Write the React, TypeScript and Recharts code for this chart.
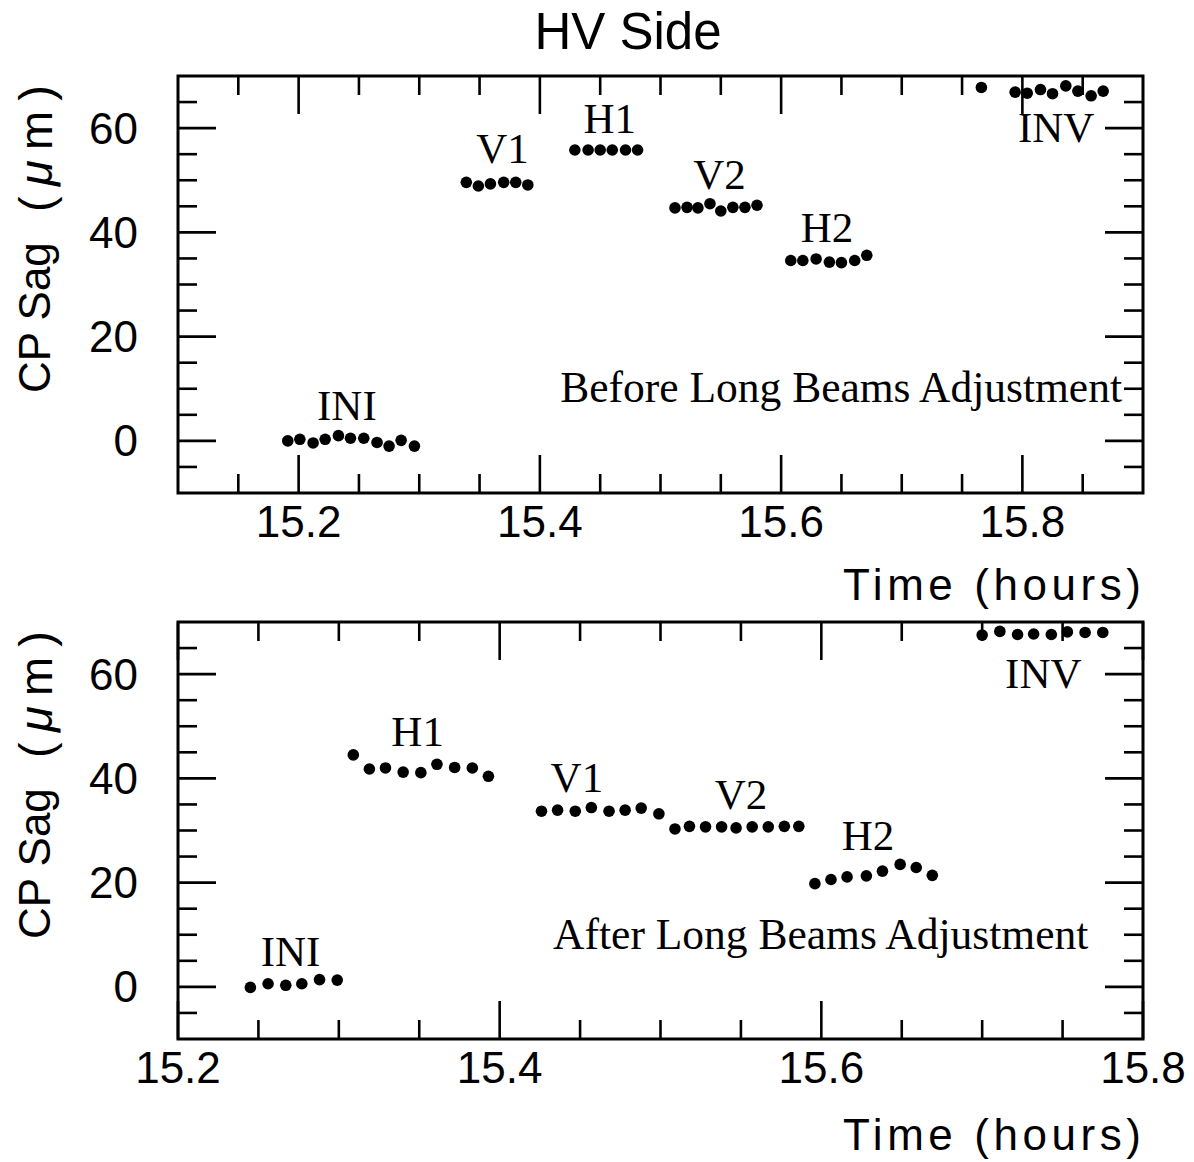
import React from 'react';
import {
  ScatterChart,
  Scatter,
  XAxis,
  YAxis,
  ReferenceArea,
  ReferenceLine,
  ReferenceDot,
} from 'recharts';

// CP sag vs time, before the long beams adjustment
const beforeTime = [
  15.191, 15.201, 15.212, 15.222, 15.233, 15.243, 15.254, 15.265, 15.275, 15.285, 15.296,
  15.339, 15.349, 15.359, 15.370, 15.380, 15.390,
  15.429, 15.440, 15.450, 15.460, 15.471, 15.481,
  15.512, 15.522, 15.531, 15.541, 15.550, 15.560, 15.570, 15.580,
  15.608, 15.618, 15.629, 15.640, 15.650, 15.661, 15.671,
  15.766, 15.794, 15.804, 15.815, 15.825, 15.836, 15.846, 15.857, 15.867,
];
const beforeSag = [
  0.0, 0.3, -0.4, 0.3, 1.0, 0.5, 0.5, -0.3, -1.0, 0.1, -1.0,
  49.6, 48.9, 49.3, 49.6, 49.6, 49.1,
  55.8, 55.8, 55.8, 55.8, 55.8, 55.8,
  44.7, 44.8, 44.7, 45.5, 44.1, 44.8, 44.8, 45.2,
  34.6, 34.6, 34.9, 34.3, 34.2, 34.6, 35.6,
  67.8, 66.9, 66.7, 67.4, 66.6, 68.1, 67.1, 66.2, 67.1,
];

// CP sag vs time, after the long beams adjustment
const afterTime = [
  15.245, 15.256, 15.267, 15.277, 15.288, 15.299,
  15.309, 15.319, 15.329, 15.340, 15.351, 15.361, 15.372, 15.383, 15.393,
  15.426, 15.436, 15.447, 15.457, 15.468, 15.478, 15.488, 15.499,
  15.509, 15.518, 15.528, 15.538, 15.547, 15.557, 15.567, 15.577, 15.586,
  15.596, 15.606, 15.616, 15.628, 15.638, 15.649, 15.659, 15.669,
  15.700, 15.711, 15.722, 15.732, 15.743, 15.753, 15.764, 15.775,
];
const afterSag = [
  -0.1, 0.6, 0.3, 0.6, 1.4, 1.3,
  44.5, 41.8, 42.0, 41.2, 41.1, 42.7, 42.1, 42.0, 40.4,
  33.7, 33.9, 33.7, 34.4, 33.7, 33.9, 34.3, 33.2,
  30.3, 30.8, 30.7, 30.7, 30.5, 30.7, 30.7, 30.8, 30.8,
  19.8, 20.6, 21.1, 21.3, 22.2, 23.5, 22.9, 21.4,
  67.5, 68.2, 67.6, 67.7, 67.6, 68.1, 68.0, 68.0,
];

// group labels (text baseline anchor, in data units)
const beforeNames = ['INI', 'V1', 'H1', 'V2', 'H2', 'INV'];
const beforeNameTime = [15.240, 15.369, 15.458, 15.549, 15.638, 15.828];
const beforeNameSag = [3.97, 53.3, 59.0, 48.4, 38.1, 57.3];

const afterNames = ['INI', 'H1', 'V1', 'V2', 'H2', 'INV'];
const afterNameTime = [15.270, 15.349, 15.448, 15.550, 15.629, 15.738];
const afterNameSag = [4.0, 46.2, 37.4, 34.2, 26.2, 57.3];

// axes
const yDomain: [number, number] = [-10, 70];
const yMajor = [0, 20, 40, 60];
const yMinor = [-5, 5, 10, 15, 25, 30, 35, 45, 50, 55, 65];

const beforeDomain: [number, number] = [15.1, 15.9];
const beforeXMajor = [15.2, 15.4, 15.6, 15.8];
const beforeXMinor = [15.15, 15.25, 15.3, 15.35, 15.45, 15.5, 15.55, 15.65, 15.7, 15.75, 15.85];

const afterDomain: [number, number] = [15.2, 15.8];
const afterXMajor = [15.2, 15.4, 15.6, 15.8];
const afterXMinor = [15.25, 15.3, 15.35, 15.45, 15.5, 15.55, 15.65, 15.7, 15.75];

const SANS = '"Liberation Sans", Arial, Helvetica, sans-serif';
const SERIF = '"Liberation Serif", "Times New Roman", serif';

const W = 1194;
const PLOT_L = 178;
const PLOT_R = 1143;
const PLOT_T = 76;
const PLOT_B = 493;
const PLOT_W = PLOT_R - PLOT_L;
const PLOT_H = PLOT_B - PLOT_T;
const MAJOR_PX = 38;
const MINOR_PX = 19;

const dot = (p: any) => <circle cx={p.cx} cy={p.cy} r={5.8} fill="#000" />;

type PanelProps = {
  time: number[];
  sag: number[];
  domain: [number, number];
  xMajor: number[];
  xMinor: number[];
  names: string[];
  nameTime: number[];
  nameSag: number[];
  note: string;
  noteTime: number;
  noteSag: number;
  height: number;
  titleY: number;
};

function Panel(props: PanelProps) {
  const { time, sag, domain, xMajor, xMinor, names, nameTime, nameSag, note, noteTime, noteSag, height, titleY } =
    props;
  const data = time.map((t, i) => ({ t, sag: sag[i] }));
  const [x0, x1] = domain;
  const [y0, y1] = yDomain;
  const hx = (x1 - x0) / PLOT_W;
  const hy = (y1 - y0) / PLOT_H;

  // inward ticks on all four sides of the frame
  const segs: { x: number; y: number }[][] = [];
  xMajor.forEach((t) => {
    segs.push([{ x: t, y: y0 }, { x: t, y: y0 + MAJOR_PX * hy }]);
    segs.push([{ x: t, y: y1 }, { x: t, y: y1 - MAJOR_PX * hy }]);
  });
  xMinor.forEach((t) => {
    segs.push([{ x: t, y: y0 }, { x: t, y: y0 + MINOR_PX * hy }]);
    segs.push([{ x: t, y: y1 }, { x: t, y: y1 - MINOR_PX * hy }]);
  });
  yMajor.forEach((v) => {
    segs.push([{ x: x0, y: v }, { x: x0 + MAJOR_PX * hx, y: v }]);
    segs.push([{ x: x1, y: v }, { x: x1 - MAJOR_PX * hx, y: v }]);
  });
  yMinor.forEach((v) => {
    segs.push([{ x: x0, y: v }, { x: x0 + MINOR_PX * hx, y: v }]);
    segs.push([{ x: x1, y: v }, { x: x1 - MINOR_PX * hx, y: v }]);
  });

  return (
    <ScatterChart
      width={W}
      height={height}
      margin={{ top: PLOT_T, right: W - PLOT_R, bottom: height - PLOT_B - 60, left: PLOT_L - 100 }}
    >
      <XAxis
        type="number"
        dataKey="t"
        domain={domain}
        allowDataOverflow
        ticks={xMajor}
        interval={0}
        height={60}
        axisLine={false}
        tickLine={false}
        tickSize={0}
        tickMargin={13}
        tickFormatter={(v: number) => v.toFixed(1)}
        tick={{ fill: '#000', fontSize: 44, fontFamily: SANS }}
        label={() => (
          <text
            x={PLOT_R - 2}
            y={titleY}
            textAnchor="end"
            fontFamily={SANS}
            fontSize={44}
            fill="#000"
            textLength={298}
            lengthAdjust="spacing"
          >
            Time (hours)
          </text>
        )}
      />
      <YAxis
        type="number"
        dataKey="sag"
        domain={yDomain}
        allowDataOverflow
        ticks={yMajor}
        interval={0}
        width={100}
        axisLine={false}
        tickLine={false}
        tickSize={0}
        tickMargin={40}
        tick={{ fill: '#000', fontSize: 44, fontFamily: SANS }}
        label={() => (
          <g fontFamily={SANS} fill="#000">
            <text x={50} y={393} transform="rotate(-90, 50, 393)" textAnchor="start" fontSize={44}>
              CP Sag
            </text>
            <text
              x={52}
              y={85}
              transform="rotate(-90, 52, 85)"
              textAnchor="end"
              fontSize={47}
              textLength={127}
              lengthAdjust="spacing"
            >
              (<tspan fontStyle="italic">μ</tspan>m)
            </text>
          </g>
        )}
      />
      <ReferenceArea
        x1={x0}
        x2={x1}
        y1={y0}
        y2={y1}
        fill="none"
        stroke="#000"
        strokeWidth={3}
        ifOverflow="visible"
      />
      {segs.map((s, i) => (
        <ReferenceLine key={i} segment={s} stroke="#000" strokeWidth={2.6} ifOverflow="visible" />
      ))}
      {names.map((n, i) => (
        <ReferenceDot
          key={n + i}
          x={nameTime[i]}
          y={nameSag[i]}
          r={0}
          fill="none"
          stroke="none"
          label={(p: any) => (
            <text
              x={p.viewBox?.x}
              y={p.viewBox?.y}
              textAnchor="middle"
              fontFamily={SERIF}
              fontSize={43}
              fill="#000"
            >
              {n}
            </text>
          )}
        />
      ))}
      <ReferenceDot
        x={noteTime}
        y={noteSag}
        r={0}
        fill="none"
        stroke="none"
        label={(p: any) => (
          <text x={p.viewBox?.x} y={p.viewBox?.y} textAnchor="end" fontFamily={SERIF} fontSize={43.5} fill="#000">
            {note}
          </text>
        )}
      />
      <Scatter data={data} shape={dot} isAnimationActive={false} />
    </ScatterChart>
  );
}

export default function App() {
  return (
    <div
      style={{
        position: 'absolute',
        left: 0,
        top: 0,
        width: W,
        height: 1162,
        background: '#fff',
        overflow: 'hidden',
      }}
    >
      <svg width={W} height={70} style={{ position: 'absolute', left: 0, top: 0 }}>
        <text x={628} y={49} textAnchor="middle" fontFamily={SANS} fontSize={51} fill="#000">
          HV Side
        </text>
      </svg>
      <div style={{ position: 'absolute', left: 0, top: 0 }}>
        <Panel
          time={beforeTime}
          sag={beforeSag}
          domain={beforeDomain}
          xMajor={beforeXMajor}
          xMinor={beforeXMinor}
          names={beforeNames}
          nameTime={beforeNameTime}
          nameSag={beforeNameSag}
          note="Before Long Beams Adjustment"
          noteTime={15.8826}
          noteSag={7.47}
          height={620}
          titleY={600}
        />
      </div>
      <div style={{ position: 'absolute', left: 0, top: 546 }}>
        <Panel
          time={afterTime}
          sag={afterSag}
          domain={afterDomain}
          xMajor={afterXMajor}
          xMinor={afterXMinor}
          names={afterNames}
          nameTime={afterNameTime}
          nameSag={afterNameSag}
          note="After Long Beams Adjustment"
          noteTime={15.766}
          noteSag={7.36}
          height={616}
          titleY={604}
        />
      </div>
    </div>
  );
}
